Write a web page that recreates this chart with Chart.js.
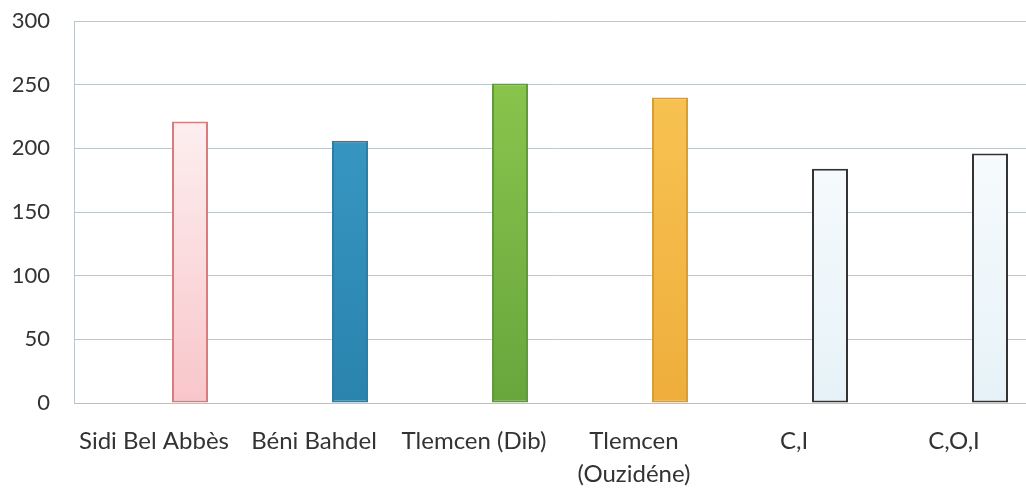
<!DOCTYPE html>
<html>
<head>
<meta charset="utf-8">
<script src="https://cdn.jsdelivr.net/npm/chart.js@4.4.0/dist/chart.umd.min.js"></script>
<style>
  html, body { margin: 0; padding: 0; background: #fff; overflow: hidden; }
  #wrap { width: 1034px; height: 489px; position: relative; }
</style>
</head>
<body>
<div id="wrap"><canvas id="barChart"></canvas></div>
<script>
// données
const categories = ['Sidi Bel Abbès', 'Béni Bahdel', 'Tlemcen (Dib)', ['Tlemcen', '(Ouzidéne)'], 'C,I', 'C,O,I'];
const values = [221, 206, 251, 240, 184, 196];
const emptySeries = [null, null, null, null, null, null];
const yTicks = [0, 50, 100, 150, 200, 250, 300];

// couleurs des barres : [haut, bas, bordure]
const barColors = [
    ['#fffdfd', '#f8c6ca', '#d97c7e'],
    ['#3d9fca', '#2983ad', '#2b7ea6'],
    ['#8fca4f', '#68a63d', '#5f9a3b'],
    ['#f9c757', '#efae3c', '#d99d35'],
    ['#ffffff', '#e6f2f8', '#333333'],
    ['#ffffff', '#e6f2f8', '#333333']
];

const fillFor = (ctx) => {
    const c = barColors[ctx.dataIndex];
    const area = ctx.chart.chartArea;
    if (!area) return c[1];
    const g = ctx.chart.ctx.createLinearGradient(0, area.top, 0, area.bottom);
    g.addColorStop(0, c[0]);
    g.addColorStop(1, c[1]);
    return g;
};

new Chart(document.getElementById('barChart'), {
    type: 'bar',
    data: {
        labels: categories,
        datasets: [
            { label: 'vide', data: emptySeries },
            {
                label: 'valeurs',
                data: values,
                backgroundColor: fillFor,
                borderColor: barColors.map(c => c[2]),
                borderWidth: 2,
                borderSkipped: false
            }
        ]
    },
    options: {
        responsive: true,
        maintainAspectRatio: false,
        animation: false,
        categoryPercentage: 0.9,
        barPercentage: 0.5,
        layout: { padding: { top: 21, left: 0, right: 0, bottom: 0 } },
        plugins: { legend: { display: false }, tooltip: { enabled: false } },
        scales: {
            x: {
                afterFit: (axis) => {
                    axis.height = 86;
                    axis.paddingLeft = 0;
                    axis.paddingRight = 0;
                },
                grid: { display: false, drawTicks: false },
                border: { display: true, color: '#b9c3cb', width: 1 },
                ticks: {
                    color: '#333333',
                    font: { family: 'Lato', size: 24, lineHeight: 1.4 },
                    padding: 21,
                    maxRotation: 0,
                    autoSkip: false
                }
            },
            y: {
                min: 0,
                max: 300,
                afterBuildTicks: (axis) => { axis.ticks = yTicks.map(v => ({ value: v })); },
                afterFit: (axis) => {
                    axis.width = 74;
                    axis.paddingTop = 0;
                    axis.paddingBottom = 0;
                },
                grid: { color: '#bcc6cd', lineWidth: 1, drawTicks: false },
                border: { display: true, color: '#bcc6cd', width: 1 },
                ticks: {
                    color: '#333333',
                    font: { family: 'Lato', size: 22 },
                    padding: 24
                }
            }
        }
    }
});
</script>
</body>
</html>
